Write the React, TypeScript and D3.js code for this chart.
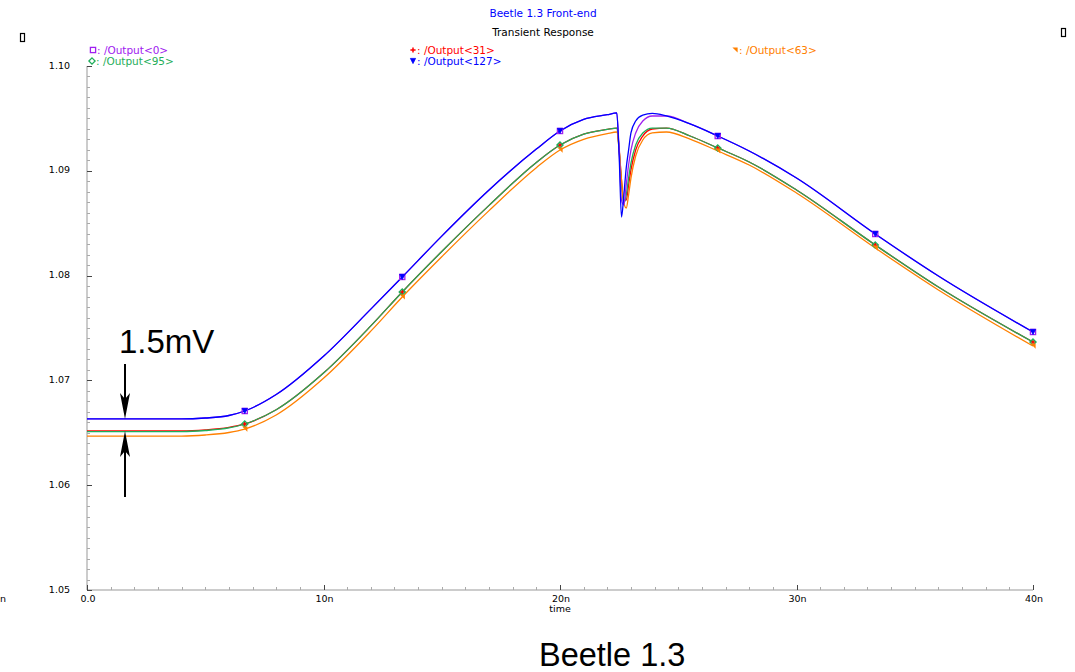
import React from 'react';
import * as d3 from 'd3';

// time axis (ns) shared by all traces
const timeNs = [0, 2, 4, 5, 6, 6.67, 8, 10, 12, 13.33, 15, 17, 19, 20, 21, 22, 22.4, 22.5, 22.6, 22.7, 22.8, 22.9, 23.0, 23.2, 23.5, 23.9, 24.5, 25.5, 26.67, 28, 30, 33.33, 36, 40];

const out0 = [1.06632, 1.06632, 1.06632, 1.06641, 1.06665, 1.06708, 1.06865, 1.0723, 1.0768, 1.07987, 1.08377, 1.08817, 1.09207, 1.0938, 1.0949, 1.09535, 1.09552, 1.09198, 1.08721, 1.08674, 1.08865, 1.09055, 1.09198, 1.09361, 1.09475, 1.09523, 1.09523, 1.09447, 1.09332, 1.09189, 1.08931, 1.08397, 1.07996, 1.07462];
const out31 = [1.06517, 1.06517, 1.06517, 1.06527, 1.06551, 1.06584, 1.0672, 1.0707, 1.0752, 1.07844, 1.0823, 1.0867, 1.0908, 1.09246, 1.0935, 1.09395, 1.09408, 1.09218, 1.08912, 1.08721, 1.08721, 1.08865, 1.09008, 1.09198, 1.09332, 1.09399, 1.09408, 1.09332, 1.09218, 1.09084, 1.08817, 1.08292, 1.07891, 1.07366];
const out63 = [1.06469, 1.06469, 1.06469, 1.06479, 1.06503, 1.06536, 1.0667, 1.0702, 1.0747, 1.07796, 1.0818, 1.0862, 1.0903, 1.09198, 1.093, 1.09355, 1.0937, 1.09198, 1.08912, 1.08693, 1.08645, 1.08769, 1.08931, 1.09141, 1.09294, 1.09361, 1.0937, 1.09303, 1.09189, 1.09055, 1.08788, 1.08263, 1.07863, 1.07328];
const out95 = [1.06512, 1.06512, 1.06512, 1.06522, 1.06546, 1.06584, 1.0672, 1.0707, 1.0752, 1.07844, 1.0823, 1.0867, 1.0908, 1.09246, 1.0935, 1.09395, 1.09408, 1.09198, 1.08865, 1.08693, 1.08769, 1.08931, 1.09074, 1.09246, 1.09361, 1.09408, 1.09408, 1.09332, 1.09218, 1.09084, 1.08817, 1.08292, 1.07891, 1.07366];
const out127 = [1.06632, 1.06632, 1.06632, 1.06641, 1.06665, 1.06708, 1.06865, 1.0723, 1.0768, 1.07987, 1.08377, 1.08817, 1.09207, 1.0938, 1.0949, 1.09535, 1.09552, 1.09151, 1.08559, 1.08769, 1.09027, 1.09198, 1.09361, 1.09475, 1.09532, 1.09547, 1.09523, 1.09447, 1.09332, 1.09189, 1.08931, 1.08397, 1.07996, 1.07462];

const markerTimes = [6.67, 13.33, 20, 26.67, 33.33, 40];
const xMajorTicks = [0, 10, 20, 30, 40];
const xTickLabels = ['0.0', '10n', '20n', '30n', '40n'];
const yMajorTicks = [1.05, 1.06, 1.07, 1.08, 1.09, 1.1];
const yTickLabels = ['1.05', '1.06', '1.07', '1.08', '1.09', '1.10'];

const W = 1075;
const H = 672;
const mono = 'DejaVu Sans, sans-serif';

type Trace = { name: string; values: number[]; color: string; marker: string };

// draw order: bottom first
const traces: Trace[] = [
  { name: '/Output<31>', values: out31, color: '#ff0000', marker: 'plus' },
  { name: '/Output<95>', values: out95, color: '#1fae5a', marker: 'diamond' },
  { name: '/Output<63>', values: out63, color: '#ff8000', marker: 'corner' },
  { name: '/Output<0>', values: out0, color: '#a020f0', marker: 'square' },
  { name: '/Output<127>', values: out127, color: '#0000ff', marker: 'tri' },
];

function Marker({ kind, x, y, color }: { kind: string; x: number; y: number; color: string }) {
  const s = 2.6;
  if (kind === 'square')
    return <rect x={x - s} y={y - s} width={s * 2} height={s * 2} fill="none" stroke={color} strokeWidth={1.3} />;
  if (kind === 'plus')
    return <path d={`M${x - s},${y}H${x + s}M${x},${y - s}V${y + s}`} stroke={color} strokeWidth={1.5} />;
  if (kind === 'diamond')
    return <path d={`M${x},${y - s - 0.5}L${x + s + 0.5},${y}L${x},${y + s + 0.5}L${x - s - 0.5},${y}Z`} fill="none" stroke={color} strokeWidth={1.3} />;
  if (kind === 'corner')
    return <path d={`M${x - s},${y - s}L${x + s},${y - s}L${x + s},${y + s}Z`} fill={color} />;
  return <path d={`M${x - s},${y - s}L${x + s},${y - s}L${x},${y + s}Z`} fill={color} stroke={color} strokeWidth={0.8} />;
}

export default function App() {
  const x = d3.scaleLinear().domain([0, 40]).range([87, 1033]);
  const y = d3.scaleLinear().domain([1.05, 1.1]).range([590, 66]);
  const line = d3
    .line<number>()
    .x((_, i) => x(timeNs[i]))
    .y((v) => y(v))
    .curve(d3.curveMonotoneX);

  const xMinor = d3.range(0, 41, 1).filter((t) => t % 10 !== 0);
  const yMinor = d3.range(0, 51).map((i) => 1.05 + i * 0.001).filter((_, i) => i % 10 !== 0);

  const legend = [
    { t: traces[3], lx: 91, ly: 53.5 },
    { t: traces[0], lx: 411, ly: 53.5 },
    { t: traces[2], lx: 733, ly: 53.5 },
    { t: traces[1], lx: 90, ly: 64.5 },
    { t: traces[4], lx: 411, ly: 64.5 },
  ];

  return (
    <div style={{ position: 'absolute', left: 0, top: 0 }}>
      <svg width={W} height={H} style={{ display: 'block', background: '#fff' }}>
        {/* titles */}
        <text x={543} y={17} textAnchor="middle" fontFamily={mono} fontSize={10.5} fill="#0000ff">
          Beetle 1.3 Front-end
        </text>
        <text x={543} y={36} textAnchor="middle" fontFamily={mono} fontSize={10.5} fill="#000">
          Transient Response
        </text>

        {/* small window glyphs */}
        <rect x={20.5} y={33.5} width={4} height={8} fill="none" stroke="#000" strokeWidth={1.2} />
        <rect x={1061.5} y={28.5} width={4} height={8} fill="none" stroke="#000" strokeWidth={1.2} />

        {/* legend */}
        {legend.map(({ t, lx, ly }) => (
          <g key={t.name}>
            <Marker kind={t.marker} x={lx + 2} y={ly - 3.5} color={t.color} />
            <text x={lx + 6} y={ly} fontFamily={mono} fontSize={10.5} fill={t.color}>
              {`: ${t.name}`}
            </text>
          </g>
        ))}

        {/* axes */}
        <line x1={87} x2={87} y1={y(1.1)} y2={y(1.05)} stroke="#999" strokeWidth={1} />
        <line x1={87} x2={x(40)} y1={590} y2={590} stroke="#999" strokeWidth={1} />
        {yMinor.map((v) => (
          <line key={v} x1={87} x2={90} y1={Math.round(y(v)) + 0.5} y2={Math.round(y(v)) + 0.5} stroke="#aaa" />
        ))}
        {yMajorTicks.map((v, i) => (
          <g key={v}>
            <line x1={87} x2={92} y1={Math.round(y(v)) + 0.5} y2={Math.round(y(v)) + 0.5} stroke="#444" />
            <text x={70} y={y(v) + 2.5} textAnchor="end" fontFamily={mono} fontSize={9.5} fill="#000">
              {yTickLabels[i]}
            </text>
          </g>
        ))}
        {xMinor.map((t) => (
          <line key={t} x1={Math.round(x(t)) + 0.5} x2={Math.round(x(t)) + 0.5} y1={590} y2={587} stroke="#aaa" />
        ))}
        {xMajorTicks.map((t, i) => (
          <g key={t}>
            <line x1={Math.round(x(t)) + 0.5} x2={Math.round(x(t)) + 0.5} y1={590} y2={585} stroke="#444" />
            <text x={x(t) + 1} y={602} textAnchor="middle" fontFamily={mono} fontSize={9.5} fill="#000">
              {xTickLabels[i]}
            </text>
          </g>
        ))}
        <text x={x(20)} y={612} textAnchor="middle" fontFamily={mono} fontSize={9.5} fill="#000">
          time
        </text>
        <text x={0} y={602} fontFamily={mono} fontSize={9.5} fill="#000">
          n
        </text>

        {/* traces */}
        {traces.map((t) => (
          <path key={t.name} d={line(t.values) || ''} fill="none" stroke={t.color} strokeWidth={1.3} />
        ))}
        {traces.map((t) =>
          markerTimes.map((mt) => {
            const i = timeNs.indexOf(mt);
            return <Marker key={t.name + mt} kind={t.marker} x={x(mt)} y={y(t.values[i])} color={t.color} />;
          })
        )}

        {/* annotation */}
        <text x={119} y={353} fontFamily="Liberation Sans, Arial, sans-serif" fontSize={33} fill="#000">
          1.5mV
        </text>
        <line x1={125} x2={125} y1={364} y2={400} stroke="#000" strokeWidth={2} />
        <path d={`M125,${y(out127[0])}L120,${y(out127[0]) - 26}L125,${y(out127[0]) - 20}L130,${y(out127[0]) - 26}Z`} fill="#000" />
        <line x1={125} x2={125} y1={450} y2={497} stroke="#000" strokeWidth={2} />
        <path d={`M125,${y(out31[0])}L120,${y(out31[0]) + 26}L125,${y(out31[0]) + 20}L130,${y(out31[0]) + 26}Z`} fill="#000" />

        <text x={539} y={666} fontFamily="Liberation Sans, Arial, sans-serif" fontSize={32.5} fill="#000">
          Beetle 1.3
        </text>
      </svg>
    </div>
  );
}
